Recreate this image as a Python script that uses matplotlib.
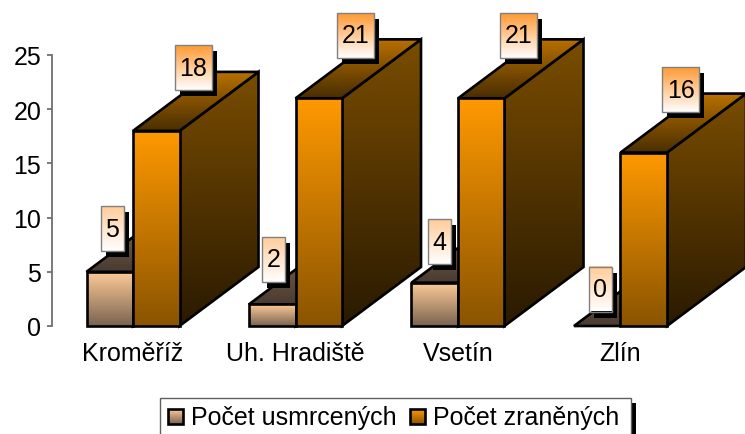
import matplotlib
matplotlib.use("Agg")
import matplotlib.pyplot as plt
import numpy as np
from matplotlib.patches import Polygon, Rectangle

plt.rcParams['font.family'] = ['Liberation Sans', 'DejaVu Sans']

categories = ["Kroměříž", "Uh. Hradiště", "Vsetín", "Zlín"]
usmrceni = [5, 2, 4, 0]
zraneni = [18, 21, 21, 16]
series_names = ["Počet usmrcených", "Počet zraněných"]
y_ticks = [0, 5, 10, 15, 20, 25]

# pixel geometry of the plot
X0, STEP, Y0, PX_UNIT = 133, 162.5, 327, 10.84
BAR_W = 46.5 / STEP
DX = 79 / STEP
DY = 59 / PX_UNIT
FS = 18

# label placement for the first series, in pixels from the top of the bar
LABEL_DX = [2.5, 1, 4.5, 3]
LABEL_DY = [-43, -45, -41, -37]


def cmap(top, bottom):
    return matplotlib.colors.LinearSegmentedColormap.from_list("g", [bottom, top])


GRAD = np.linspace(0, 1, 256).reshape(-1, 1)


def face(ax, pts, top, bottom):
    pts = np.array(pts)
    poly = Polygon(pts, closed=True, fc="none", ec="black", lw=1.9, zorder=3, clip_on=False)
    ext = [pts[:, 0].min(), pts[:, 0].max(), pts[:, 1].min(), pts[:, 1].max()]
    if ext[2] != ext[3]:
        im = ax.imshow(GRAD, cmap=cmap(top, bottom), extent=ext, origin="lower",
                       aspect="auto", zorder=3)
        clip = Polygon(pts, closed=True, transform=ax.transData)
        im.set_clip_path(clip)
    ax.add_patch(poly)


def bar3d(ax, x, v, front, side, topf):
    w = BAR_W
    face(ax, [(x + w, 0), (x + w + DX, DY), (x + w + DX, v + DY), (x + w, v)], *side)
    face(ax, [(x, v), (x + w, v), (x + w + DX, v + DY), (x + DX, v + DY)], *topf)
    if v > 0:
        face(ax, [(x, 0), (x + w, 0), (x + w, v), (x, v)], *front)


fig = plt.figure(figsize=(7.45, 4.35), dpi=100)
left = (X0 - 0.5 * STEP) / 745
width = (745 - (X0 - 0.5 * STEP)) / 745
xmax = (745 - X0) / STEP
ax = fig.add_axes([left, (435 - Y0) / 435, width, (30 * PX_UNIT) / 435])
ax.set_xlim(-0.5, xmax)
ax.set_ylim(0, 30)

style1 = (("#FFCC99", "#7A6350"), ("#66523F", "#2A2018"), ("#7F6650", "#4A3B30"))
style2 = (("#FF9900", "#8A5400"), ("#7A4D00", "#2A1A00"), ("#B87000", "#4A2E00"))

for i in range(len(categories)):
    bar3d(ax, i - BAR_W, usmrceni[i], *style1)
    bar3d(ax, i, zraneni[i], *style2)

for s in ["top", "right", "bottom"]:
    ax.spines[s].set_visible(False)
ax.patch.set_alpha(0)
ax.spines["left"].set_color("#707070")
ax.spines["left"].set_linewidth(1.3)
ax.spines["left"].set_bounds(0, 25)
ax.set_yticks(y_ticks)
ax.set_xticks(range(len(categories)))
ax.set_xticklabels(categories, fontsize=FS)
ax.tick_params(axis="x", length=0, pad=11)
ax.tick_params(axis="y", length=3.6, width=1.3, color="#707070", labelsize=FS, pad=4)

# overlay in pixel coordinates for data labels and legend
ov = fig.add_axes([0, 0, 1, 1], zorder=5)
ov.axis("off")


def grad_box(x0, y0, x1, y1, top, bottom, ec="#808080", lw=1):
    im = ov.imshow(GRAD, cmap=cmap(top, bottom), extent=[x0, x1, y1, y0], origin="lower",
                   aspect="auto", zorder=6)
    im.set_clip_on(False)
    ov.add_patch(Rectangle((x0, y0), x1 - x0, y1 - y0, fc="none", ec=ec, lw=lw, zorder=6))


def data_label(x, v, w, dx, dy, top):
    px, py = ax.transData.transform((x, v))
    py = 435 - py
    cx, cy = px + dx, py + dy
    h = 45
    ov.add_patch(Rectangle((cx - w / 2 + 5, cy - h / 2 + 6), w, h, fc="black", ec="none", zorder=5))
    grad_box(cx - w / 2, cy - h / 2, cx + w / 2, cy + h / 2, top, "#FFFFFF")
    ov.text(cx, cy, str(v), ha="center", va="center", fontsize=FS, zorder=7)


for i in range(len(categories)):
    data_label(i - BAR_W / 2, usmrceni[i], 23, LABEL_DX[i], LABEL_DY[i], "#FFCC99")
    data_label(i + BAR_W / 2, zraneni[i], 37, 37, -63, "#FF9933")

# legend
ov.add_patch(Rectangle((631, 404), 5, 31, fc="black", ec="none", zorder=5))
ov.add_patch(Rectangle((160, 398.5), 471, 45, fc="white", ec="#606060", lw=1, zorder=5))
grad_box(168, 410, 183, 425, "#FFCC99", "#7A6350", ec="black", lw=1.9)
grad_box(410, 410, 425, 425, "#FF9900", "#8A5400", ec="black", lw=1.9)
ov.text(191, 418, series_names[0], va="center", fontsize=FS, zorder=7)
ov.text(433, 418, series_names[1], va="center", fontsize=FS, zorder=7)
ov.set_xlim(0, 745)
ov.set_ylim(435, 0)

fig.savefig("out.png", dpi=100)
